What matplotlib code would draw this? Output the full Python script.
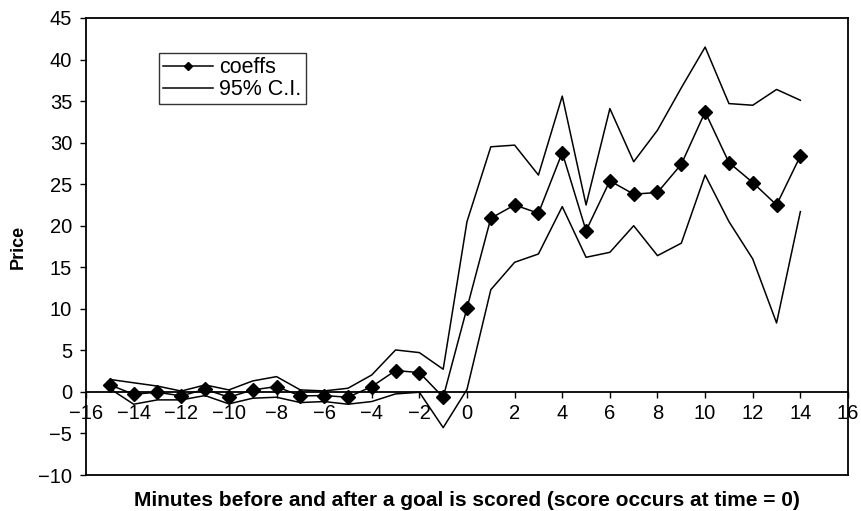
import matplotlib
matplotlib.use("Agg")
import matplotlib.pyplot as plt

plt.rcParams["font.family"] = ["Liberation Sans", "DejaVu Sans"]

# minutes relative to the goal
minutes = list(range(-15, 15))
coeffs = [0.84, -0.28, -0.04, -0.48, 0.32, -0.64, 0.24, 0.64, -0.48, -0.44,
          -0.64, 0.64, 2.57, 2.33, -0.64, 10.1, 20.9, 22.5, 21.5, 28.8,
          19.4, 25.4, 23.8, 24.0, 27.4, 33.7, 27.6, 25.2, 22.5, 28.4]
ci_upper = [1.5, 1.1, 0.7, 0.1, 0.84, 0.24, 1.32, 1.84, 0.24, 0.12,
            0.44, 2.04, 5.05, 4.73, 2.73, 20.5, 29.5, 29.7, 26.1, 35.6,
            22.5, 34.1, 27.7, 31.5, 36.6, 41.5, 34.7, 34.5, 36.4, 35.1]
ci_lower = [0.4, -1.48, -0.96, -0.96, -0.44, -1.44, -0.76, -0.64, -1.28, -1.16,
            -1.48, -1.16, -0.24, -0.04, -4.3, 0.3, 12.3, 15.6, 16.6, 22.3,
            16.2, 16.8, 20.0, 16.4, 17.9, 26.1, 20.5, 16.0, 8.3, 21.7]

fig = plt.figure(figsize=(8.62, 5.11), dpi=100)
ax = fig.add_axes([86 / 862, 1 - 475 / 511, 762 / 862, 457 / 511])

ax.plot(minutes, coeffs, color="black", lw=1.1, marker="D", ms=7, label="coeffs")
ax.plot(minutes, ci_upper, color="black", lw=1.1, label="95% C.I.")
ax.plot(minutes, ci_lower, color="black", lw=1.1)

ax.set_xlim(-16, 16)
ax.set_ylim(-10, 45)
ax.set_xticks(range(-16, 17, 2))
ax.set_yticks(range(-10, 46, 5))

# x axis crosses at y = 0, plot area keeps its full frame
ax.spines["bottom"].set_position(("data", 0))
ax.plot([0, 1], [0, 0], transform=ax.transAxes, color="black", lw=1.3, clip_on=False)
for s in ax.spines.values():
    s.set_linewidth(1.3)

ax.tick_params(direction="out", length=4, width=1, labelsize=14.5, colors="black")
ax.tick_params(axis="x", pad=5)
ax.tick_params(axis="y", pad=6)

ax.set_ylabel("Price", fontsize=13, fontweight="bold", labelpad=8)
ax.text(0.5, -0.036, "Minutes before and after a goal is scored (score occurs at time = 0)",
        transform=ax.transAxes, ha="center", va="top", fontsize=15, fontweight="bold")

leg = ax.legend(loc="upper left", bbox_to_anchor=(0.096, 0.924), fontsize=15.5,
                frameon=True, fancybox=False, edgecolor="black", handlelength=2.3,
                handletextpad=0.3, borderpad=0.2, labelspacing=0.05, markerscale=0.55,
                borderaxespad=0)
leg.get_frame().set_linewidth(1.0)

fig.savefig("out.png", dpi=100)
